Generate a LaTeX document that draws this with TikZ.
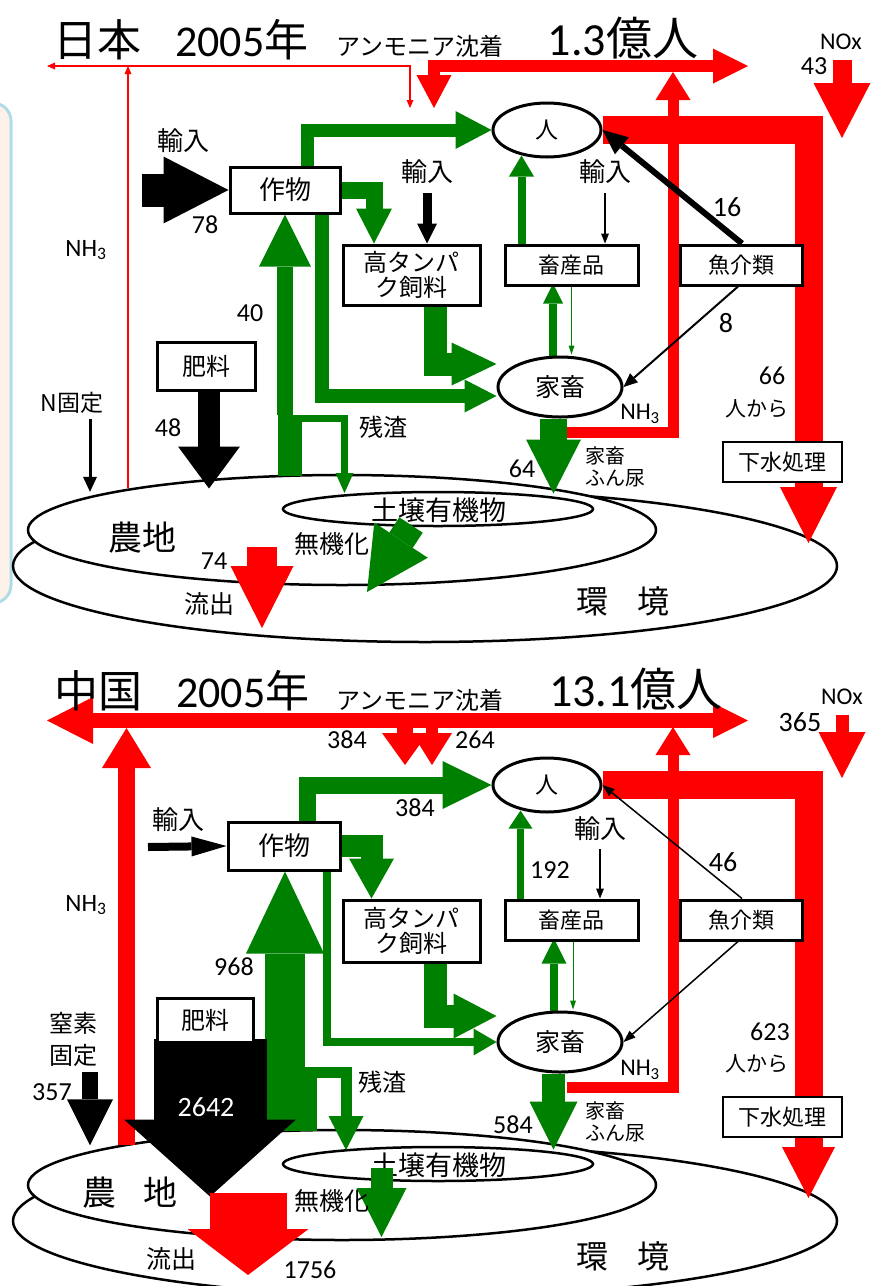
\documentclass[tikz,border=0pt]{standalone}
\usepackage{fontspec}
\setmainfont{Noto Sans CJK JP}
\newfontfamily\numfont{Carlito}
\usepackage{xcolor}
\usepackage{tikz}
\usetikzlibrary{arrows.meta, positioning, shapes.geometric}

\definecolor{fgreen}{RGB}{0,128,0}
\definecolor{fred}{RGB}{255,0,0}
\definecolor{edgeblue}{RGB}{178,219,232}
\definecolor{paper}{RGB}{253,242,234}

\pgfdeclarelayer{back}
\pgfdeclarelayer{flow}
\pgfsetlayers{back,flow,main}

\newcommand{\fsz}[1]{\fontsize{#1}{#1}\selectfont}

\begin{document}
\begin{tikzpicture}[x=1pt, y=-1pt,
    box/.style={draw, line width=3pt, fill=white, inner sep=0pt, minimum height=40pt},
    oval/.style={ellipse, draw, line width=3pt, fill=white, inner sep=0pt},
    ring/.style={ellipse, draw, line width=2.5pt, fill=white, inner sep=0pt},
    lbl/.style={inner sep=1pt, font=\fsz{#1}},
    num/.style={inner sep=1pt, font=\numfont\fsz{#1}},
    gflow/.style={draw=fgreen, line width=#1},
    rflow/.style={draw=fred, line width=#1},
    kflow/.style={draw=black, line width=#1},
    ah/.style 2 args={-{Triangle[length=#1pt, width=#2pt, line width=0pt]}}
  ]
  \useasboundingbox (0,0) rectangle (876,1286);

  % ---------------- Japan ----------------
  \begin{pgfonlayer}{back}
    \draw[draw=edgeblue, fill=paper, line width=3pt, rounded corners=18pt] (-40,103) rectangle (11,603);
    \node[ring, minimum width=824pt, minimum height=152pt] (jenv) at (425,566) {};
    \node[ring, minimum width=628pt, minimum height=110pt] (jfarm) at (342,530) {};
    \node[ring, minimum width=310pt, minimum height=34pt] (jsoil) at (438,509) {};
    \node[lbl=27] (jsoiltxt) at (439,510) {土壌有機物};
  \end{pgfonlayer}

  \node[oval, minimum width=108pt, minimum height=54pt, font=\fsz{23}] (jhuman) at (547,130) {人};
  \node[oval, minimum width=124pt, minimum height=60pt, font=\fsz{25}] (jstock) at (560,387) {家畜};
  \node[box, minimum width=110pt, minimum height=46pt, font=\fsz{26}] (jcrop) at (285,190) {作物};
  \node[box, minimum width=137pt, minimum height=60pt, align=center,
        font=\fontsize{24}{25}\selectfont] (jfeed) at (411.5,275) {高タンパ\\ク飼料};
  \node[box, minimum width=133pt, font=\fsz{22}] (jprod) at (571.5,265) {畜産品};
  \node[box, minimum width=122pt, font=\fsz{22}] (jfish) at (741,265) {魚介類};
  \node[box, minimum width=98pt, minimum height=48pt, font=\fsz{24}] (jfert) at (206,366) {肥料};
  \node[box, minimum width=119pt, line width=1.5pt, font=\fsz{22}] (jsewer) at (782.5,462) {下水処理};

  \node[lbl=44, anchor=west] (jtitle) at (52,40) {日本\hspace{34pt}{\numfont 2005}年};
  \node[lbl=24] (jdep) at (420,46) {アンモニア沈着};
  \node[lbl=46] (jpop) at (623,38) {{\numfont 1.3}億人};
  \node[num=24] (jnox) at (841,42) {NOx};
  \node[num=26] (j43) at (814,66) {43};
  \node[num=25] (jnh3a) at (86,250) {NH\textsubscript{3}};
  \node[lbl=26] (jimp1) at (183,141) {輸入};
  \node[num=26] (j78) at (205,225) {78};
  \node[num=26] (j40) at (250,313) {40};
  \node[lbl=26] (jimp2) at (427,172) {輸入};
  \node[lbl=26] (jimp3) at (605,172) {輸入};
  \node[num=28] (j16) at (727,207) {16};
  \node[num=28] (j8) at (726,323) {8};
  \node[num=26] (j66) at (772,376) {66};
  \node[lbl=21] (jfrom) at (757,409) {人から};
  \node[num=24] (jnh3b) at (640,414) {NH\textsubscript{3}};
  \node[align=left, inner sep=1pt, font=\fontsize{20}{22}\selectfont] (jdung) at (615,467) {家畜\\ふん尿};
  \node[num=26] (j64) at (522,469) {64};
  \node[lbl=24] (jres) at (383,427) {残渣};
  \node[lbl=23] (jnfix) at (72,403) {N固定};
  \node[num=26] (j48) at (168,428) {48};
  \node[lbl=34] (jfarmtxt) at (142,538) {農地};
  \node[num=26] (j74) at (214,561) {74};
  \node[lbl=25] (jout) at (209,604) {流出};
  \node[lbl=25] (jmin) at (332,544) {無機化};
  \node[lbl=32] (jenvtxt) at (623,601) {環\hspace{30pt}境};
  \coordinate (jnoxs) at (842,60);

  \begin{pgfonlayer}{flow}
    % red
    \draw[rflow=1.5pt, {Triangle[length=8pt, width=7pt, line width=0pt]}-{Triangle[length=8pt, width=7pt, line width=0pt]}]
      (47,66) -- (410,66) -- (410,108);
    \draw[rflow=1.5pt, ah={8}{7}] (128,488) -- (128,66);
    \draw[rflow=12pt, ah={35}{35}] (428,66) -- (748,66);
    \draw[rflow=12pt, ah={33}{35}] (434,60) -- (434,108);
    \draw[rflow=11pt, ah={28}{35}] (567,432.5) -| (673,72);
    \draw[rflow=28pt, ah={56}{57}] (jhuman.east) -| (808.5,543);
    \draw[rflow=19pt, ah={55}{57}] (jnoxs) -- ++(0,78);
    \draw[rflow=30pt, ah={62}{63}] (262,547) -- (262,628);
    % green
    \draw[gflow=13pt, ah={36}{38}] ([xshift=22]jcrop.north) |- (jhuman.west);
    \draw[gflow=17pt, ah={35}{36}] (jcrop.east) -| ([xshift=-37.5]jfeed.north);
    \draw[gflow=23pt, ah={45}{43}] ([xshift=23.5]jfeed.south) |- ([yshift=23]jstock.west);
    \draw[gflow=14pt, ah={32}{33}] ([xshift=37]jcrop.south) |- ([yshift=-9]jstock.west);
    \draw[gflow=24pt] (290,476) -- (290,415);
    \draw[gflow=16pt, ah={52}{52}] (285,415) -- (jcrop.south);
    \draw[gflow=7pt, ah={20}{18}] (302,418.5) -| (344.5,493);
    \draw[gflow=8pt, ah={20}{20}] ([xshift=-7]jstock.north) -- ++(0,-72);
    \draw[gflow=1pt, ah={9}{6}] (jprod.south) -- ++(0,68);
    \draw[gflow=8pt, ah={21}{25}] ([xshift=-50]jprod.north) -- ++(0,-88);
    \draw[gflow=27pt, ah={54}{55}] ([xshift=-6.5]jstock.south) -- ++(0,75);
    \draw[gflow=28pt, ah={62}{64}] (411,525) -- (367,592);
    % black
    \draw[kflow=33pt, ah={65}{67}] (142,190) -- (jcrop.west);
    \draw[kflow=9pt, ah={20}{20}] ([yshift=-8]jimp2.south) -- (jimp2.south |- jfeed.north);
    \draw[kflow=1.5pt, ah={10}{8}] ([yshift=-8]jimp3.south) -- (jimp3.south |- jprod.north);
    \draw[kflow=6pt, ah={25}{22}] ([xshift=1]jfish.north) -- (jhuman.east);
    \draw[kflow=2pt, ah={14}{12}] ([xshift=-3]jfish.south) -- (jstock.east);
    \draw[kflow=22pt, ah={42}{62}] ([xshift=3]jfert.south) -- ++(0,97);
    \draw[kflow=3pt, ah={15}{14}] ([xshift=18,yshift=-4]jnfix.south) -- ++(0,73);
  \end{pgfonlayer}

  % ---------------- China ----------------
  \begin{scope}[shift={(0,655)}]
    \begin{pgfonlayer}{back}
      \node[ring, minimum width=824pt, minimum height=152pt] (cenv) at (425,566) {};
      \node[ring, minimum width=628pt, minimum height=110pt] (cfarm) at (342,530) {};
      \node[ring, minimum width=310pt, minimum height=34pt] (csoil) at (438,509) {};
      \node[lbl=27] (csoiltxt) at (439,510) {土壌有機物};
    \end{pgfonlayer}

    \node[oval, minimum width=108pt, minimum height=54pt, font=\fsz{23}] (chuman) at (547,130) {人};
    \node[oval, minimum width=124pt, minimum height=60pt, font=\fsz{25}] (cstock) at (560,387) {家畜};
    \node[box, minimum width=112pt, minimum height=48pt, font=\fsz{26}] (ccrop) at (284,191) {作物};
    \node[box, minimum width=137pt, minimum height=62pt, align=center,
          font=\fontsize{24}{25}\selectfont] (cfeed) at (411.5,276) {高タンパ\\ク飼料};
    \node[box, minimum width=133pt, font=\fsz{22}] (cprod) at (571.5,265) {畜産品};
    \node[box, minimum width=122pt, font=\fsz{22}] (cfish) at (741,265) {魚介類};
    \node[box, minimum width=96pt, minimum height=44pt, font=\fsz{24}] (cfert) at (205,365) {肥料};
    \node[box, minimum width=119pt, line width=1.5pt, font=\fsz{22}] (csewer) at (782.5,462) {下水処理};

    \node[lbl=44, anchor=west] (ctitle) at (53,36) {中国\hspace{34pt}{\numfont 2005}年};
    \node[lbl=24] (cdep) at (420,45) {アンモニア沈着};
    \node[lbl=46] (cpop) at (636,34) {{\numfont 13.1}億人};
    \node[num=24] (cnox) at (842,42) {NOx};
    \node[num=28] (c365) at (800,67) {365};
    \node[num=26] (c384a) at (347,85) {384};
    \node[num=26] (c264) at (475,85) {264};
    \node[num=25] (cnh3a) at (86,250) {NH\textsubscript{3}};
    \node[lbl=26] (cimp1) at (178,165) {輸入};
    \node[num=26] (c384b) at (415,153) {384};
    \node[num=26] (c968) at (234,312) {968};
    \node[num=26] (c192) at (550,215) {192};
    \node[lbl=26] (cimp3) at (600,174) {輸入};
    \node[num=28] (c46) at (723,207) {46};
    \node[num=26] (c623) at (770,377) {623};
    \node[lbl=21] (cfrom) at (757,409) {人から};
    \node[num=24] (cnh3b) at (640,415) {NH\textsubscript{3}};
    \node[align=left, inner sep=1pt, font=\fontsize{20}{22}\selectfont] (cdung) at (615,467) {家畜\\ふん尿};
    \node[num=26] (c584) at (513,470) {584};
    \node[lbl=24] (cres) at (382,427) {残渣};
    \node[align=center, inner sep=1pt, font=\fontsize{24}{32}\selectfont] (cnfix) at (73,384) {窒素\\固定};
    \node[num=26] (c357) at (52,437) {357};
    \node[lbl=34] (cfarmtxt) at (130,538) {農\hspace{28pt}地};
    \node[lbl=25] (cmin) at (332,546) {無機化};
    \node[lbl=25] (cout) at (171,604) {流出};
    \node[num=26] (c1756) at (310,615) {1756};
    \node[lbl=32] (cenvtxt) at (623,601) {環\hspace{30pt}境};
    \coordinate (cnoxs) at (842,60);

    \begin{pgfonlayer}{flow}
      % red
      \draw[rflow=15pt, {Triangle[length=46pt, width=47pt, line width=0pt]}-{Triangle[length=35pt, width=35pt, line width=0pt]}]
        (47,65.5) -- (748,65.5);
      \draw[rflow=17pt, ah={40}{49}] (126.5,490) -- (126.5,73);
      \draw[rflow=16pt, ah={32}{46}] (405,65.5) -- (405,110);
      \draw[rflow=12pt, ah={32}{40}] (432,65.5) -- (432,110);
      \draw[rflow=11pt, ah={28}{35}] (567,432.5) -| (673,72);
      \draw[rflow=28pt, ah={51}{53}] (chuman.east) -| (808.5,543);
      \draw[rflow=13pt, ah={46}{47}] (cnoxs) -- ++(0,63);
      % green
      \draw[gflow=17pt, ah={49}{48}] ([xshift=23]ccrop.north) |- (chuman.west);
      \draw[gflow=22pt, ah={40}{45}] (ccrop.east) -| ([xshift=-40]cfeed.north);
      \draw[gflow=23pt, ah={43}{45}] ([xshift=23.5]cfeed.south) |- ([yshift=26]cstock.west);
      \draw[gflow=8pt, ah={23}{27}] ([xshift=43]ccrop.south) |- (cstock.west);
      \draw[gflow=52pt] (291,476) -- (291,412);
      \draw[gflow=40pt, ah={82}{78}] (285,412) -- (ccrop.south -| 285,0);
      \draw[gflow=11pt, ah={34}{35}] (317,417) -| (346,495);
      \draw[gflow=8pt, ah={25}{25}] ([xshift=-6]cstock.north) -- ++(0,-72);
      \draw[gflow=1pt, ah={9}{6}] ([xshift=1.5]cprod.south) -- ++(0,68);
      \draw[gflow=7pt, ah={18}{24}] ([xshift=-51]cprod.north) -- ++(0,-88);
      \draw[gflow=23pt, ah={48}{48}] ([xshift=-6.5]cstock.south) -- ++(0,76);
      \draw[gflow=22pt, ah={49}{50}] (381.5,513) -- (381.5,582);
      % black
      \draw[kflow=8pt, ah={35}{20}] (148,192) -- (ccrop.west);
      \draw[kflow=1.5pt, ah={10}{8}] ([yshift=-7]cimp3.south) -- (cimp3.south |- cprod.north);
      \draw[kflow=1.5pt, ah={12}{9}] ([xshift=1]cfish.north) -- (chuman.east);
      \draw[kflow=1.5pt, ah={12}{9}] ([xshift=-3]cfish.south) -- (cstock.east);
      \draw[kflow=113pt, ah={77}{172}] ([xshift=5,yshift=5]cfert.south) -- ++(0,158);
      \draw[kflow=16pt, ah={46}{46}] ([xshift=17,yshift=-5]cnfix.south) -- ++(0,73);
      \draw[rflow=77pt, ah={46}{121}] (248,538) -- (248,620);
    \end{pgfonlayer}
    \node[num=28, text=white] (c2642) at (206,452) {2642};
  \end{scope}
\end{tikzpicture}
\end{document}
